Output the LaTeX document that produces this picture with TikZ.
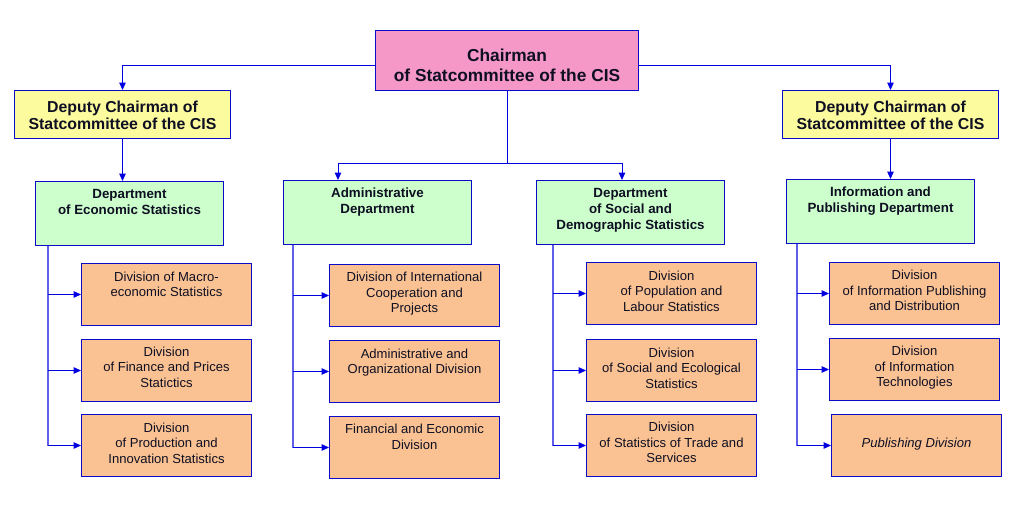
\documentclass[tikz,border=0pt]{standalone}
\usepackage{fontspec}
\setmainfont{Liberation Sans}
\usetikzlibrary{arrows.meta,calc}
\newdimen\px \px=0.75pt
\definecolor{cpink}{RGB}{245,152,200}
\definecolor{cyellow}{RGB}{252,252,158}
\definecolor{cgreen}{RGB}{204,255,204}
\definecolor{corange}{RGB}{250,194,146}
\definecolor{cborder}{RGB}{10,10,200}
\definecolor{cline}{RGB}{0,0,225}
\definecolor{ctrunk}{RGB}{95,95,235}
\definecolor{ctext}{RGB}{15,15,35}
\begin{document}
\begin{tikzpicture}[x=0.75pt,y=-0.75pt,
  box/.style={draw=cborder, line width=1\px, anchor=north west, inner sep=0pt},
  chbox/.style={box, fill=cpink, minimum width=263\px, minimum height=60\px},
  depbox/.style={box, fill=cyellow, minimum width=216\px, minimum height=48\px},
  deptbox/.style={box, fill=cgreen, minimum width=188\px, minimum height=64\px},
  divbox/.style={box, fill=corange, minimum width=170\px, minimum height=62\px},
  chtext/.style={inner sep=0pt, align=center, text=ctext, font=\fontsize{13}{15}\selectfont\bfseries},
  deptext/.style={inner sep=0pt, align=center, text=ctext, font=\fontsize{11.9}{13}\selectfont\bfseries},
  depttext/.style={inner sep=0pt, align=center, anchor=north, text=ctext, font=\fontsize{10}{12}\selectfont\bfseries},
  divtext/.style={inner sep=0pt, align=center, anchor=north, text=ctext, font=\fontsize{9.8}{11.6}\selectfont},
  conn/.style={draw=cline, line width=0.75pt, -{Triangle[length=5.6pt,width=4.9pt]}},
  trunk/.style={draw=ctrunk, line width=1pt},
]
\fill[white] (0,0) rectangle (1018,510);
\useasboundingbox (0,0) rectangle (1018,510);

% top level
\node[chbox] (ch) at (375,30) {};
\node[chtext] (cht) at ($(ch.center)+(0,5)$) {Chairman\\of Statcommittee of the CIS};
\node[depbox] (dl) at (14,90) {};
\node[deptext] (dlt) at ($(dl.center)+(0,1)$) {Deputy Chairman of\\Statcommittee of the CIS};
\node[depbox] (dr) at (782,90) {};
\node[deptext] (drt) at ($(dr.center)+(0,1)$) {Deputy Chairman of\\Statcommittee of the CIS};

% departments
\node[deptbox] (ec) at (35,181) {};
\node[depttext] (ect) at ($(ec.north)+(0,8)$) {Department\\of Economic Statistics};
\node[deptbox] (ad) at (283,180) {};
\node[depttext] (adt) at ($(ad.north)+(0,8)$) {Administrative\\Department};
\node[deptbox] (so) at (536,180) {};
\node[depttext] (sot) at ($(so.north)+(0,8)$) {Department\\of Social and\\Demographic Statistics};
\node[deptbox] (in) at (786,179) {};
\node[depttext] (int) at ($(in.north)+(0,8)$) {Information and\\Publishing Department};

% divisions: economic
\node[divbox] (e1) at (81,263) {};
\node[divtext] (e1t) at ($(e1.north)+(0,8.5)$) {Division of Macro-\\economic Statistics};
\node[divbox] (e2) at (81,339) {};
\node[divtext] (e2t) at ($(e2.north)+(0,7.5)$) {Division\\of Finance and Prices\\Statictics};
\node[divbox] (e3) at (81,414) {};
\node[divtext] (e3t) at ($(e3.north)+(0,8.5)$) {Division\\of Production and\\Innovation Statistics};
% administrative
\node[divbox] (a1) at (329,264) {};
\node[divtext] (a1t) at ($(a1.north)+(0,8)$) {Division of International\\Cooperation and\\Projects};
\node[divbox] (a2) at (329,340) {};
\node[divtext] (a2t) at ($(a2.north)+(0,8.5)$) {Administrative and\\Organizational Division};
\node[divbox] (a3) at (329,416) {};
\node[divtext] (a3t) at ($(a3.north)+(0,8)$) {Financial and Economic\\Division};
% social
\node[divbox] (s1) at (586,262) {};
\node[divtext] (s1t) at ($(s1.north)+(0,8.5)$) {Division\\of Population and\\Labour Statistics};
\node[divbox] (s2) at (586,339) {};
\node[divtext] (s2t) at ($(s2.north)+(0,8.5)$) {Division\\of Social and Ecological\\Statistics};
\node[divbox] (s3) at (586,414) {};
\node[divtext] (s3t) at ($(s3.north)+(0,8)$) {Division\\of Statistics of Trade and\\Services};
% information
\node[divbox] (i1) at (829,262) {};
\node[divtext] (i1t) at ($(i1.north)+(0,8)$) {Division\\of Information Publishing\\and Distribution};
\node[divbox] (i2) at (829,338) {};
\node[divtext] (i2t) at ($(i2.north)+(0,8)$) {Division\\of Information\\Technologies};
\node[divbox] (i3) at (831,414) {};
\node[divtext, anchor=center, font=\fontsize{9.8}{11.6}\selectfont\itshape] (i3t) at ($(i3.center)+(0,-1)$) {Publishing Division};

% top connectors
\draw[conn] ($(ch.west)+(0,5)$) -| (dl.north);
\draw[conn] ($(ch.east)+(0,5)$) -| (dr.north);
\coordinate (hub) at ($(ch.south)+(0,72)$);
\draw[draw=cline, line width=0.75pt] (ch.south) -- (hub);
\draw[conn] (hub) -| ($(ad.north west)+(55,0)$);
\draw[conn] (hub) -| ($(so.north west)+(86,0)$);
\draw[conn] (dl.south) -- (dl.south |- ec.north);
\draw[conn] (dr.south) -- (dr.south |- in.north);

% trunks
\coordinate (et) at ($(ec.south west)+(13,0)$);
\coordinate (at) at ($(ad.south west)+(10,0)$);
\coordinate (st) at ($(so.south west)+(17,0)$);
\coordinate (it) at ($(in.south west)+(11,0)$);
\draw[trunk] (et) -- (et |- e3.west);
\draw[trunk] (at) -- (at |- a3.west);
\draw[trunk] (st) -- (st |- s3.west);
\draw[trunk] (it) -- (it |- i3.west);
\foreach \d in {e1,e2,e3} \draw[conn] (et |- \d.west) -- (\d.west);
\foreach \d in {a1,a2,a3} \draw[conn] (at |- \d.west) -- (\d.west);
\foreach \d in {s1,s2,s3} \draw[conn] (st |- \d.west) -- (\d.west);
\foreach \d in {i1,i2,i3} \draw[conn] (it |- \d.west) -- (\d.west);
\end{tikzpicture}
\end{document}
